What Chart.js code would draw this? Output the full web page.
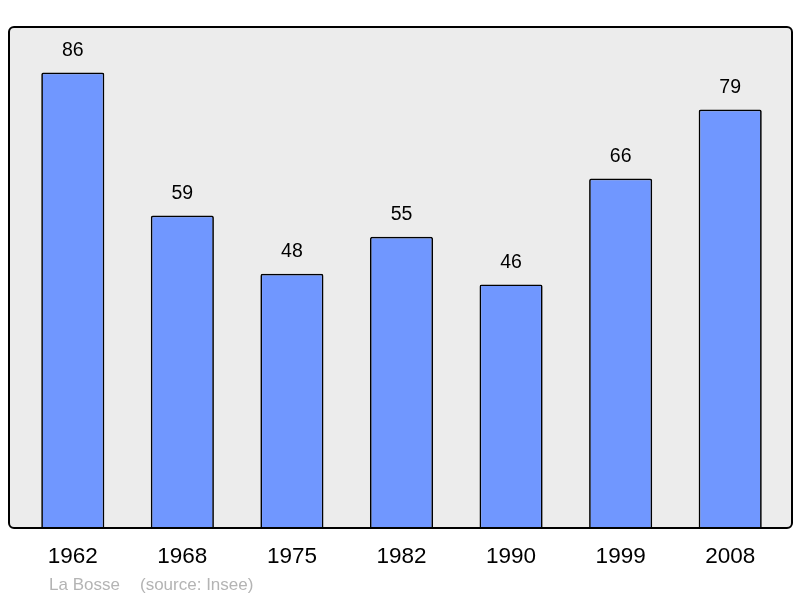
<!DOCTYPE html>
<html>
<head>
<meta charset="utf-8">
<script src="https://cdn.jsdelivr.net/npm/chart.js@4"></script>
<style>
  html, body { margin: 0; padding: 0; background: #ffffff; }
  #wrap { width: 800px; height: 598px; }
</style>
</head>
<body>
<div id="wrap"><canvas id="chart" width="800" height="598"></canvas></div>
<script>
// données
const annees = ["1962", "1968", "1975", "1982", "1990", "1999", "2008"];
const population = [86, 59, 48, 55, 46, 66, 79];
const source = ["La Bosse", "(source: Insee)"];

const FONT = "'Liberation Sans', Arial, sans-serif";

// cadre gris + étiquettes
const cadre = {
  id: "cadre",
  beforeDatasetsDraw(chart) {
    const { ctx, chartArea } = chart;
    const x = chartArea.left - 9, y = chartArea.top;
    const w = chartArea.right - chartArea.left + 16, h = chartArea.bottom - chartArea.top;
    ctx.save();
    ctx.beginPath();
    ctx.roundRect(x, y, w, h, 5);
    ctx.fillStyle = "#ececec";
    ctx.fill();
    ctx.restore();
  },
  afterDatasetsDraw(chart) {
    const { ctx, chartArea } = chart;
    const x = chartArea.left - 9, y = chartArea.top;
    const w = chartArea.right - chartArea.left + 16, h = chartArea.bottom - chartArea.top;
    ctx.save();
    ctx.beginPath();
    ctx.roundRect(x, y, w, h, 5);
    ctx.lineWidth = 2;
    ctx.strokeStyle = "#000000";
    ctx.stroke();

    const meta = chart.getDatasetMeta(0);
    ctx.fillStyle = "#000000";
    ctx.textAlign = "center";
    ctx.textBaseline = "middle";
    ctx.font = "19.5px " + FONT;
    meta.data.forEach((bar, i) => {
      ctx.fillText(String(population[i]), bar.x, bar.y - 22);
    });
    ctx.font = "22.5px " + FONT;
    annees.forEach((a, i) => {
      ctx.fillText(a, chart.scales.x.getPixelForValue(i), chartArea.bottom + 29);
    });
    ctx.fillStyle = "#b4b4b4";
    ctx.textAlign = "left";
    ctx.font = "17px " + FONT;
    ctx.fillText(source[0], 49, chartArea.bottom + 57);
    ctx.fillText(source[1], 140, chartArea.bottom + 57);
    ctx.restore();
  }
};

new Chart(document.getElementById("chart"), {
  type: "bar",
  data: {
    labels: annees,
    datasets: [{
      data: population,
      backgroundColor: "#7097ff",
      borderColor: "#000000",
      borderWidth: 1.7,
      borderRadius: 2,
      borderSkipped: "bottom",
      barPercentage: 0.576,
      categoryPercentage: 1
    }]
  },
  options: {
    responsive: false,
    animation: false,
    layout: { padding: { left: 18, right: 15, top: 27, bottom: 70 } },
    plugins: { legend: { display: false }, tooltip: { enabled: false } },
    scales: {
      x: { display: false },
      y: { display: false, min: 0, max: 94.6 }
    }
  },
  plugins: [cadre]
});
</script>
</body>
</html>
